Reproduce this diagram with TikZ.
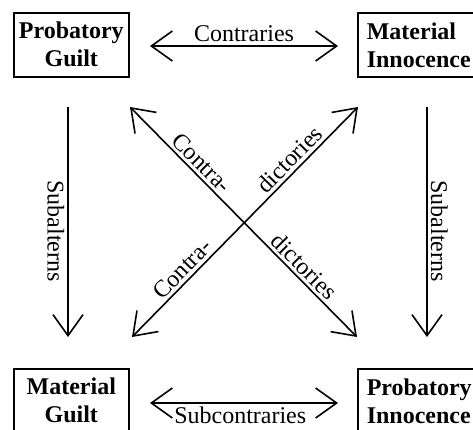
\documentclass[tikz,border=0pt]{standalone}
\usepackage{fontspec}
\setmainfont{Liberation Serif}
\usetikzlibrary{arrows.meta}
\begin{document}
\begin{tikzpicture}[x=0.5pt,y=-0.5pt,
  box/.style={draw, line width=0.8pt, font=\fontsize{12}{14}\selectfont\bfseries, inner xsep=0pt, inner ysep=0pt, minimum height=32pt, anchor=north west},
  lbox/.style={box, text width=57.5pt, align=center},
  rbox/.style={box, inner xsep=4.5pt, text width=62pt, align=left},
  barb/.tip={Straight Barb[length=10.5pt,width=15pt]},
  arr/.style={line width=0.8pt, barb-barb},
  rarr/.style={line width=0.8pt, -barb},
  lbl/.style={font=\fontsize{12}{14}\selectfont, inner sep=1.5pt},
]
\useasboundingbox (0,0) rectangle (473,430);
\fill[white] (0,0) rectangle (473,430);

\node[lbox] (pg) at (13,12) {Probatory\\Guilt};
\node[rbox] (mi) at (357,12) {Material\\Innocence};
\node[lbox] (mg) at (13,368) {Material\\Guilt};
\node[rbox] (pi) at (357,368) {Probatory\\Innocence};

\coordinate (cL) at (150,46);  \coordinate (cR) at (338,46);
\coordinate (sL) at (150,403); \coordinate (sR) at (338,403);
\coordinate (vLt) at (68,107); \coordinate (vLb) at (68,337);
\coordinate (vRt) at (427,107); \coordinate (vRb) at (427,337);
\coordinate (dNW) at (130,107); \coordinate (dSE) at (357,337);
\coordinate (dSW) at (132,337); \coordinate (dNE) at (358,107);

\draw[arr] (cL) -- (cR) node[lbl, above, midway] (c1) {Contraries};
\draw[arr] (sL) -- (sR) node[lbl, below, pos=0.48] (c2) {Subcontraries};

\draw[rarr] (vLt) -- (vLb) node[lbl, sloped, below, pos=0.54] (s1) {Subalterns};
\draw[rarr] (vRt) -- (vRb) node[lbl, sloped, above, pos=0.54] (s2) {Subalterns};

\draw[arr] (dNW) -- (dSE)
  node[lbl, sloped, above, pos=0.28] (t1) {Contra-}
  node[lbl, sloped, above, pos=0.73] (t2) {dictories};
\draw[arr] (dSW) -- (dNE)
  node[lbl, sloped, above, pos=0.26] (t3) {Contra-}
  node[lbl, sloped, above, pos=0.735] (t4) {dictories};
\end{tikzpicture}
\end{document}
